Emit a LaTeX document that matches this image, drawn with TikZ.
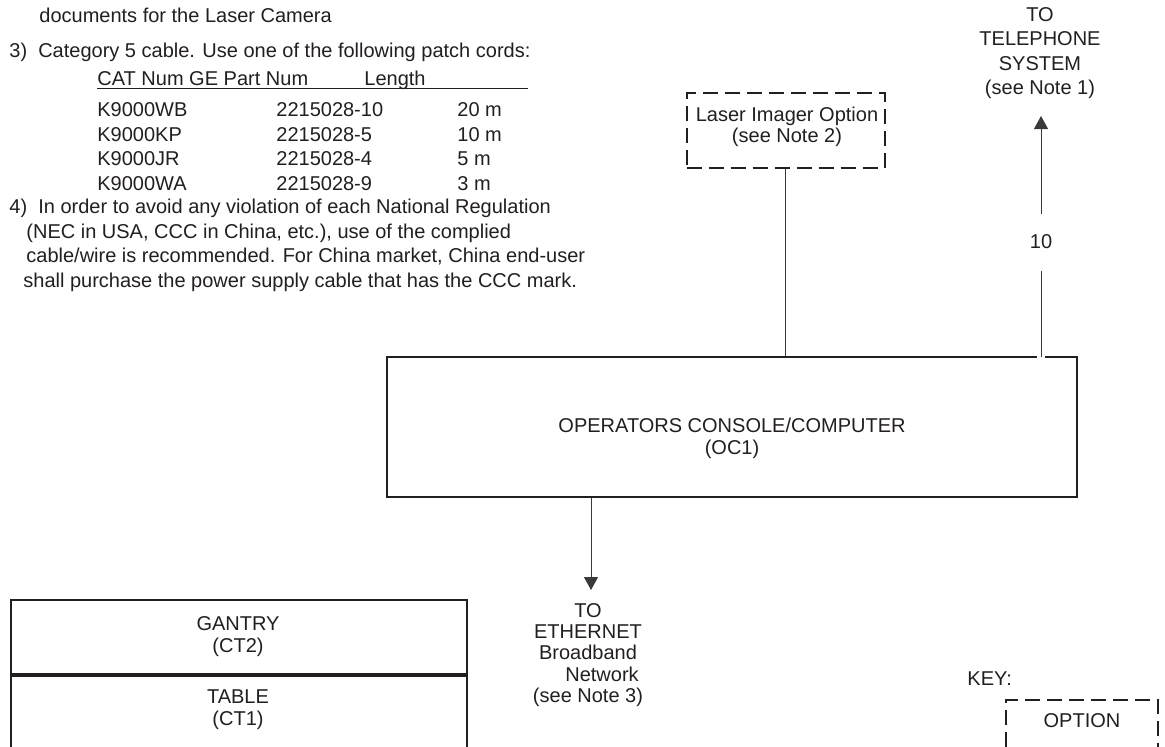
\documentclass[tikz,border=0pt]{standalone}
\usepackage{fontspec}
\setmainfont{Liberation Sans}
\usetikzlibrary{arrows.meta}
\definecolor{ink}{HTML}{231F20}
\definecolor{wirec}{HTML}{3A3A3A}
\begin{document}
\begin{tikzpicture}[x=0.5pt,y=-0.5pt,
  txt/.style={inner sep=0pt, anchor=base west, text=ink, font=\fontsize{10}{12}\selectfont},
  col/.style={inner sep=0pt, anchor=north west, align=left, text=ink, font=\fontsize{10}{12.2}\selectfont},
  ctr/.style={inner sep=0pt, align=center, text=ink, font=\fontsize{10}{11}\selectfont},
  boxed/.style={draw=ink, line width=1pt, inner sep=0pt},
  dboxed/.style={draw=ink, line width=1pt, inner sep=0pt, dash pattern=on 7.5pt off 3.5pt},
  wire/.style={draw=wirec, line width=0.5pt},
  tip/.style={-{Triangle[length=6.5pt,width=7pt]}}]
\useasboundingbox (0,0) rectangle (1165,746);
\clip (0,0) rectangle (1165,746);
\fill[white] (0,0) rectangle (1165,746);

% notes
\node[txt] (n2b) at (39,22) {documents for the Laser Camera};
\node[txt] (n3) at (9,57) {3)\ \ Category 5 cable. Use one of the following patch cords:};
\node[txt] (h1) at (97,85) {CAT Num GE Part Num};
\node[txt] (h2) at (364,85) {Length};
\coordinate (ul1) at (97,88.5);
\coordinate (ul2) at (528,88.5);
\draw[draw=ink, line width=0.5pt] (ul1) -- (ul2);
\node[col] (ca) at (97,102.5) {K9000WB\\K9000KP\\K9000JR\\K9000WA};
\node[col] (cb) at (276,102.5) {2215028-10\\2215028-5\\2215028-4\\2215028-9};
\node[col] (cc) at (457,102.5) {20 m\\10 m\\5 m\\3 m};
\node[col] (n4) at (9,199) {4)\ \ In order to avoid any violation of each National Regulation\\
\hspace*{8.5pt}(NEC in USA, CCC in China, etc.), use of the complied\\
\hspace*{8.5pt}cable/wire is recommended. For China market, China end-user\\
\hspace*{7pt}shall purchase the power supply cable that has the CCC mark.};

% laser imager option
\node[dboxed, minimum width=99pt, minimum height=37.5pt] (laser) at (785.5,130.5) {};
\node[ctr, font=\fontsize{10}{8}\selectfont] (lasert) at (787,127) {Laser Imager Option\\(see Note 2)};

% telephone
\node[ctr, font=\fontsize{10}{12.1}\selectfont] (tel) at (1040,53) {TO\\TELEPHONE\\SYSTEM\\(see Note 1)};

% operators console
\node[boxed, minimum width=345pt, minimum height=70pt] (oc) at (732,427) {};
\node[ctr] (oct) at (732,438) {OPERATORS CONSOLE/COMPUTER\\(OC1)};

% ethernet
\node[ctr, font=\fontsize{10}{10.7}\selectfont] (eth) at (588,655) {TO\\ETHERNET\\Broadband\\\hspace*{14pt}Network\\(see Note 3)};

% gantry / table
\node[boxed, minimum width=228pt, minimum height=37pt] (gantry) at (239,637) {};
\node[ctr] (gantryt) at (238,636.5) {GANTRY\\(CT2)};
\node[boxed, minimum width=228pt, minimum height=45pt, anchor=north] (table) at (gantry.south) {};
\node[ctr] (tablet) at (238,709.5) {TABLE\\(CT1)};

% key
\node[txt] (key) at (967,685) {KEY:};
\node[dboxed, minimum width=76pt, minimum height=30pt, anchor=north west] (opt) at (1005,699) {};
\node[ctr] (optt) at (1082,721) {OPTION};

% connectors
\draw[wire] (laser.south) -- (laser.south |- oc.north);
\coordinate (telbot) at (1041,357);
\coordinate (telmid1) at (1041,271);
\coordinate (telmid2) at (1041,214);
\coordinate (teltip) at (1041,116);
\node[ctr] (ten) at (1041,242) {10};
\draw[white, line width=1.6pt] (1037,357) -- (1045,357);
\draw[wire] (telbot) -- (telmid1);
\draw[wire, tip] (telmid2) -- (teltip);
\coordinate (ethtip) at (591,590);
\draw[wire, tip] (oc.south -| ethtip) -- (ethtip);
\end{tikzpicture}
\end{document}
